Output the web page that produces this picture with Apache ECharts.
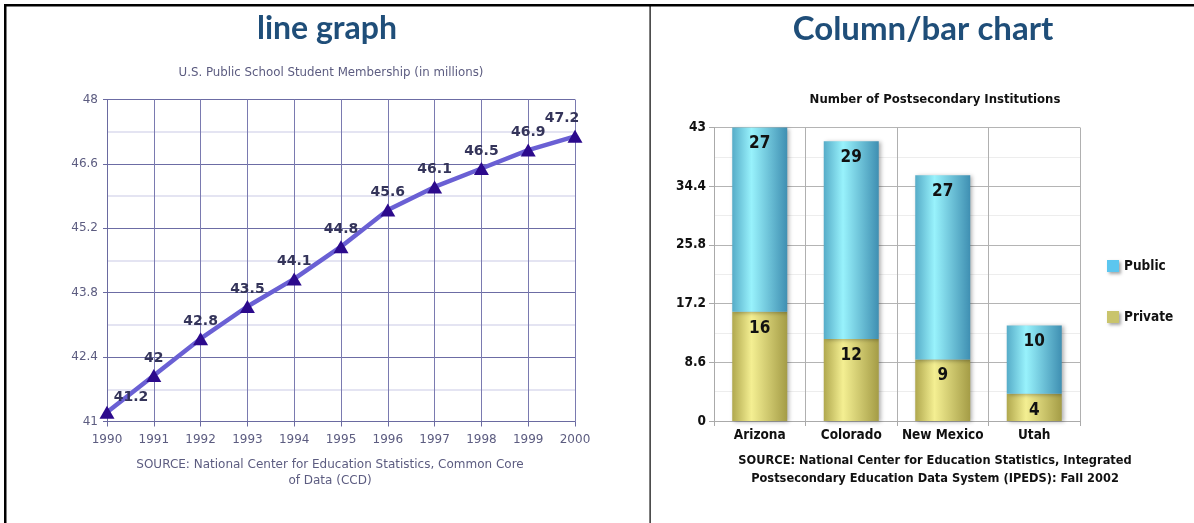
<!DOCTYPE html>
<html>
<head>
<meta charset="utf-8">
<script src="https://cdn.jsdelivr.net/npm/echarts@6/dist/echarts.min.js"></script>
<style>
html,body{margin:0;padding:0;background:#fff;}
#c{width:1194px;height:523px;}
</style>
</head>
<body>
<div id="c"></div>
<script>
// ---- data: line graph ----
const years = ['1990','1991','1992','1993','1994','1995','1996','1997','1998','1999','2000'];
const membership = [41.2, 42, 42.8, 43.5, 44.1, 44.8, 45.6, 46.1, 46.5, 46.9, 47.2];
const lineYTicks = [41, 42.4, 43.8, 45.2, 46.6, 48];

// ---- data: column chart ----
const states = ['Arizona', 'Colorado', 'New Mexico', 'Utah'];
const privateInst = [16, 12, 9, 4];
const publicInst = [27, 29, 27, 10];
const barYTicks = [0, 8.6, 17.2, 25.8, 34.4, 43];

const chart = echarts.init(document.getElementById('c'));

const gothic = '"DejaVu Sans", sans-serif';
const narrow = '"DejaVu Sans Condensed", "Liberation Sans Narrow", sans-serif';
const titleFont = 'Lato, "Open Sans", sans-serif';

const lineStep = (lineYTicks[1] - lineYTicks[0]);
const lineData = membership.map((v, i) => {
  const d = { value: v };
  if (i === 0) d.label = { offset: [24, 3] };
  if (i === membership.length - 1) d.label = { offset: [-13, 0] };
  return d;
});

function grad(edgeL, mid, edgeR) {
  return { type: 'linear', x: 0, y: 0, x2: 1, y2: 0, colorStops: [
    { offset: 0, color: edgeL }, { offset: 0.35, color: mid }, { offset: 1, color: edgeR } ] };
}
function txt(x, y, text, font, fill) {
  return { type: 'text', x: x, y: y, style: { text: text, font: font, fill: fill, align: 'center', verticalAlign: 'middle', textAlign: 'center', textVerticalAlign: 'middle' } };
}

const option = {
  animation: false,
  backgroundColor: '#ffffff',
  graphic: [
    { type: 'rect', shape: { x: 4, y: 4, width: 1190, height: 2.5 }, style: { fill: '#000' } },
    { type: 'rect', shape: { x: 4, y: 4, width: 2.5, height: 519 }, style: { fill: '#000' } },
    { type: 'rect', shape: { x: 649.5, y: 4, width: 1.2, height: 519 }, style: { fill: '#000' } },
    txt(327, 29, 'line graph', 'bold 32px ' + titleFont, '#1f4e79'),
    txt(923, 29, 'Column/bar chart', 'bold 33px ' + titleFont, '#1f4e79'),
    txt(331, 73, 'U.S. Public School Student Membership (in millions)', '11.8px ' + gothic, '#5c5c80'),
    txt(330, 465, 'SOURCE: National Center for Education Statistics, Common Core', '12px ' + gothic, '#5c5c80'),
    txt(330, 481, 'of Data (CCD)', '12px ' + gothic, '#5c5c80'),
    txt(935, 100, 'Number of Postsecondary Institutions', 'bold 13px ' + narrow, '#111'),
    txt(935, 461, 'SOURCE: National Center for Education Statistics, Integrated', 'bold 12.7px ' + narrow, '#111'),
    txt(935, 479, 'Postsecondary Education Data System (IPEDS): Fall 2002', 'bold 12.7px ' + narrow, '#111')
  ],
  legend: {
    orient: 'vertical', left: 1102, top: 254, itemGap: 37, itemWidth: 12, itemHeight: 12,
    icon: 'rect',
    textStyle: { fontFamily: narrow, fontWeight: 'bold', fontSize: 13.5, color: '#111' },
    data: [
      { name: 'Public', itemStyle: { color: '#5cc6ef', shadowBlur: 3, shadowColor: 'rgba(0,0,0,0.35)', shadowOffsetX: 2, shadowOffsetY: 2 } },
      { name: 'Private', itemStyle: { color: '#c9c46c', shadowBlur: 3, shadowColor: 'rgba(0,0,0,0.35)', shadowOffsetX: 2, shadowOffsetY: 2 } }
    ]
  },
  grid: [
    { left: 107, top: 99.5, width: 468, height: 322, containLabel: false },
    { left: 714, top: 127.5, width: 366, height: 293.5, containLabel: false }
  ],
  xAxis: [
    {
      gridIndex: 0, type: 'category', data: years, boundaryGap: false,
      axisLine: { lineStyle: { color: '#6a6aa0', width: 1 } },
      axisTick: { show: true, length: 5, lineStyle: { color: '#6a6aa0' } },
      axisLabel: { color: '#5c5c80', fontFamily: gothic, fontSize: 12, margin: 12, interval: 0 },
      splitLine: { show: true, lineStyle: { color: '#7a7ab0', width: 1 } }
    },
    {
      gridIndex: 1, type: 'category', data: states, boundaryGap: true,
      axisLine: { lineStyle: { color: '#aaaaaa' } },
      axisTick: { show: true, length: 5, lineStyle: { color: '#aaaaaa' } },
      axisLabel: { color: '#111', fontFamily: narrow, fontWeight: 'bold', fontSize: 13.5, margin: 7, interval: 0 },
      splitLine: { show: true, lineStyle: { color: '#b0b0b0' } }
    }
  ],
  yAxis: [
    {
      gridIndex: 0, type: 'value', min: lineYTicks[0], max: lineYTicks[lineYTicks.length - 1],
      show: false, splitLine: { show: false }
    },
    {
      gridIndex: 0, type: 'value', min: 0, max: lineYTicks[lineYTicks.length - 1] - lineYTicks[0], interval: lineStep,
      position: 'left',
      axisLine: { show: true, lineStyle: { color: '#6a6aa0' } },
      axisTick: { show: true, length: 4, lineStyle: { color: '#6a6aa0' } },
      axisLabel: { color: '#5c5c80', fontFamily: gothic, fontSize: 12, margin: 9,
        formatter: v => String(lineYTicks[Math.round(v / lineStep)]) },
      splitLine: { show: true, lineStyle: { color: '#6c6ca4', width: 1 } },
      minorTick: { show: false, splitNumber: 2 },
      minorSplitLine: { show: true, lineStyle: { color: '#dcdcee', width: 1.5 } }
    },
    {
      gridIndex: 1, type: 'value', min: barYTicks[0], max: barYTicks[barYTicks.length - 1], interval: barYTicks[1] - barYTicks[0],
      axisLine: { show: true, lineStyle: { color: '#aaaaaa' } },
      axisTick: { show: true, length: 5, lineStyle: { color: '#aaaaaa' } },
      axisLabel: { color: '#111', fontFamily: narrow, fontWeight: 'bold', fontSize: 13.5, margin: 8 },
      splitLine: { show: true, lineStyle: { color: '#b4b4b4' } },
      minorTick: { show: false, splitNumber: 2 },
      minorSplitLine: { show: true, lineStyle: { color: '#ededed' } }
    }
  ],
  series: [
    {
      type: 'line', xAxisIndex: 0, yAxisIndex: 0, data: lineData,
      lineStyle: { color: '#6a60d4', width: 4.5 },
      symbol: 'triangle', symbolSize: [15, 13],
      itemStyle: { color: '#2c0a8c' },
      label: { show: true, position: 'top', distance: 4, color: '#34345a', fontFamily: gothic, fontWeight: 'bold', fontSize: 14 },
      z: 5
    },
    {
      name: 'Private', type: 'bar', xAxisIndex: 1, yAxisIndex: 2, stack: 'inst', data: privateInst,
      barWidth: 55,
      itemStyle: { color: grad('#b0a84e', '#f4ef92', '#a49c46'), shadowBlur: 4, shadowColor: 'rgba(0,0,0,0.3)', shadowOffsetX: 2, shadowOffsetY: 1 },
      label: { show: true, position: 'insideTop', distance: 8, color: '#111', fontFamily: narrow, fontWeight: 'bold', fontSize: 17 }
    },
    {
      name: 'Public', type: 'bar', xAxisIndex: 1, yAxisIndex: 2, stack: 'inst', data: publicInst,
      barWidth: 55,
      itemStyle: { color: grad('#56acc8', '#98f2fc', '#3f8fb2'), shadowBlur: 4, shadowColor: 'rgba(0,0,0,0.3)', shadowOffsetX: 2, shadowOffsetY: 1 },
      label: { show: true, position: 'insideTop', distance: 8, color: '#111', fontFamily: narrow, fontWeight: 'bold', fontSize: 17 }
    }
  ]
};

chart.setOption(option);
</script>
</body>
</html>
